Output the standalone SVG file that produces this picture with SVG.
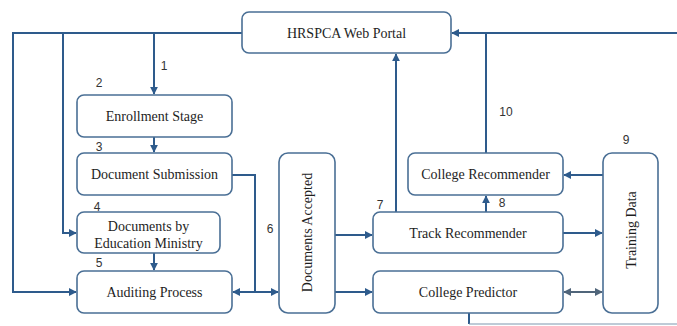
<svg xmlns="http://www.w3.org/2000/svg" width="677" height="326" viewBox="0 0 677 326">
<style>
.box{fill:#ffffff;stroke:#4a6f95;stroke-width:1.6}
.t{fill:#1e1e1e;text-anchor:middle}
.n{fill:#333;text-anchor:middle}
.c{fill:none;stroke:#2e5b8c;stroke-width:2}
.g{fill:none;stroke:#50657a;stroke-width:2}
.l{fill:none;stroke:#7f97b0;stroke-width:1.2}
</style>
<defs>
<marker id="a" viewBox="0 0 10 10" refX="9" refY="5" markerWidth="4" markerHeight="4" orient="auto-start-reverse"><path d="M0,0L10,5L0,10z" fill="#2e5b8c"/></marker>
<marker id="ag" viewBox="0 0 10 10" refX="9" refY="5" markerWidth="4" markerHeight="4" orient="auto-start-reverse"><path d="M0,0L10,5L0,10z" fill="#50657a"/></marker>
</defs>
<rect width="677" height="326" fill="#ffffff"/>
<g id="connectors">
<path class="c" d="M242,33H13V292H76" marker-end="url(#a)"/>
<path class="c" d="M63,33V233H76" marker-end="url(#a)"/>
<path class="c" d="M154,33V94" marker-end="url(#a)"/>
<path class="c" d="M154,137V152" marker-end="url(#a)"/>
<path class="c" d="M154,253V270" marker-end="url(#a)"/>
<path class="c" d="M232,175H255V292"/>
<path class="c" d="M255,292H233" marker-end="url(#a)"/>
<path class="c" d="M255,292H278" marker-end="url(#a)"/>
<path class="c" d="M335,235H372" marker-end="url(#a)"/>
<path class="c" d="M335,292H372" marker-end="url(#a)"/>
<path class="c" d="M396,212V54" marker-end="url(#a)"/>
<path class="c" d="M486,212V196" marker-end="url(#a)"/>
<path class="c" d="M486,153V33"/>
<path class="c" d="M677,33H452" marker-end="url(#a)"/>
<path class="c" d="M603,175H564" marker-end="url(#a)"/>
<path class="c" d="M563,233H602" marker-end="url(#a)"/>
<path class="g" d="M564,292H602" marker-start="url(#ag)" marker-end="url(#ag)"/>
<path class="c" d="M469,313V324"/>
<path class="l" d="M469,324H677"/>
</g>
<g font-family="Liberation Serif, Times New Roman, serif" font-size="14">
<g id="portal"><rect class="box" x="242" y="12" width="209" height="41" rx="7"/><text class="t" x="346.5" y="37.5">HRSPCA Web Portal</text></g>
<g id="enrollment"><rect class="box" x="77" y="95" width="155" height="42" rx="7"/><text class="t" x="154.5" y="121">Enrollment Stage</text></g>
<g id="submission"><rect class="box" x="77" y="153" width="155" height="42" rx="7"/><text class="t" x="154.5" y="179">Document Submission</text></g>
<g id="ministry"><rect class="box" x="77" y="212" width="143" height="41" rx="7"/><text class="t" x="148.5" y="230.5">Documents by</text><text class="t" x="148.5" y="247.5">Education Ministry</text></g>
<g id="auditing"><rect class="box" x="77" y="271" width="155" height="42" rx="7"/><text class="t" x="154.5" y="297">Auditing Process</text></g>
<g id="accepted"><rect class="box" x="279" y="153" width="56" height="160" rx="9"/><text class="t" transform="translate(312,232.5) rotate(-90)">Documents Accepted</text></g>
<g id="college-rec"><rect class="box" x="408" y="153" width="155" height="42" rx="7"/><text class="t" x="485.5" y="179">College Recommender</text></g>
<g id="track-rec"><rect class="box" x="373" y="212" width="190" height="41" rx="7"/><text class="t" x="468" y="237.5">Track Recommender</text></g>
<g id="college-pred"><rect class="box" x="373" y="271" width="190" height="42" rx="7"/><text class="t" x="468" y="297">College Predictor</text></g>
<g id="training"><rect class="box" x="603" y="153" width="55" height="160" rx="9"/><text class="t" transform="translate(635.5,230) rotate(-90)">Training Data</text></g>
</g>
<g id="labels" font-family="Liberation Sans, Arial, sans-serif" font-size="12">
<text class="n" x="164" y="70">1</text>
<text class="n" x="99" y="87">2</text>
<text class="n" x="99" y="151">3</text>
<text class="n" x="97" y="211">4</text>
<text class="n" x="99" y="267">5</text>
<text class="n" x="270" y="233">6</text>
<text class="n" x="380" y="209">7</text>
<text class="n" x="502" y="207">8</text>
<text class="n" x="626" y="144">9</text>
<text class="n" x="506" y="116">10</text>
</g>
</svg>
